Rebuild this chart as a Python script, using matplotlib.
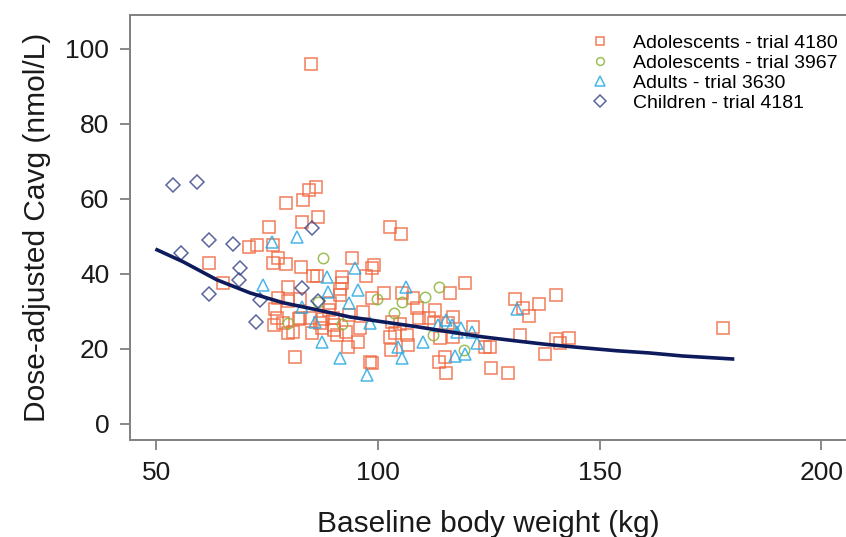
import numpy as np
import matplotlib
matplotlib.use("Agg")
import matplotlib.pyplot as plt

plt.rcParams['font.family'] = ['Liberation Sans', 'DejaVu Sans']

# Adolescents - trial 4180 (squares)
adol4180_wt = [84.9, 86.0, 84.5, 83.1, 79.3, 86.5, 82.9, 75.5, 70.9, 72.7, 76.4, 77.5,
               76.4, 79.3, 82.7, 85.4, 86.3, 91.9, 91.9, 94.1, 97.3, 99.1, 79.7, 61.9,
               65.1, 77.5, 79.7, 82.4, 76.8, 77.3, 82.4, 78.6, 80.9, 85.1, 89.2, 89.9,
               90.1, 90.1, 90.8, 86.9, 89.0, 91.4, 91.4, 96.6, 95.9, 95.5, 93.2, 98.2,
               81.3, 102.7, 105.2, 119.6, 116.2, 107.9, 108.8, 112.8, 109.2, 111.5, 116.9,
               115.8, 121.4, 130.9, 136.3, 140.3, 132.7, 134.0, 132.0, 140.3, 143.2, 141.2,
               137.6, 124.1, 125.2, 125.5, 129.3, 113.7, 115.1, 115.3, 106.8, 102.7, 103.8,
               102.9, 98.6, 98.6, 112.6, 114.0, 116.9, 106.5, 104.9, 103.2, 105.4, 177.9,
               87.6, 84.8, 87.4, 92.8, 93.5, 82.2, 76.6, 79.7, 98.6, 101.5]
adol4180_cavg = [96.0, 63.2, 62.4, 59.7, 58.9, 55.2, 53.9, 52.5, 47.2, 47.7, 47.7, 44.3,
                 42.9, 42.7, 41.9, 39.5, 39.5, 39.2, 37.6, 44.3, 39.5, 42.4, 36.5, 42.9,
                 37.6, 33.6, 32.8, 33.3, 30.7, 28.3, 28.3, 26.9, 24.5, 24.3, 32.3, 28.3,
                 26.4, 25.1, 23.7, 26.9, 30.4, 36.0, 34.4, 29.9, 25.6, 21.9, 20.5, 16.5,
                 17.9, 52.5, 50.7, 37.6, 34.9, 33.6, 30.9, 30.4, 28.3, 28.3, 28.5,
                 26.9, 25.9, 33.3, 32.0, 34.4, 30.9, 28.8, 23.7, 22.7, 22.9, 21.6,
                 18.7, 20.5, 20.5, 14.9, 13.6, 16.5, 17.9, 13.6, 21.1, 23.2, 24.3,
                 19.7, 16.3, 41.6, 26.9, 22.9, 23.2, 23.7, 26.7, 27.2, 34.9, 25.6,
                 28.0, 28.3, 25.6, 24.5, 29.1, 28.0, 26.4, 24.3, 33.6, 35.0]

# Adolescents - trial 3967 (circles)
adol3967_wt = [87.6, 79.7, 91.9, 86.5, 99.8, 113.7, 110.6, 105.4, 103.6, 112.4, 119.4]
adol3967_cavg = [44.3, 26.9, 26.7, 32.5, 33.3, 36.5, 33.9, 32.5, 29.6, 23.7, 19.7]

# Adults - trial 3630 (triangles)
adults_wt = [76.1, 81.8, 74.1, 88.5, 94.8, 88.7, 82.9, 85.8, 95.5, 93.5, 87.4, 91.4,
             97.5, 98.2, 106.3, 131.5, 110.1, 104.5, 105.4, 113.5, 115.3, 116.7, 117.8,
             118.7, 121.2, 122.3, 117.3, 119.6]
adults_cavg = [48.5, 49.9, 37.1, 39.2, 41.6, 35.2, 31.2, 27.2, 35.7, 32.3, 21.9, 17.6,
               13.1, 26.9, 36.5, 30.7, 21.9, 20.5, 17.6, 26.4, 27.7, 26.4, 24.5,
               25.6, 24.5, 21.6, 18.1, 18.7]

# Children - trial 4181 (diamonds)
children_wt = [53.8, 59.2, 55.6, 61.9, 67.3, 61.9, 68.9, 68.7, 73.4, 72.5, 85.1, 82.9, 86.5]
children_cavg = [63.7, 64.5, 45.6, 49.1, 48.0, 34.7, 41.6, 38.4, 33.1, 27.2, 52.3, 36.3, 32.8]

# model prediction curve
curve_wt = [50.2, 56.1, 63.7, 71.2, 78.6, 86.3, 93.7, 101.1, 108.8, 114.6, 123.6,
            131.3, 138.7, 146.2, 153.8, 161.3, 168.7, 180.0]
curve_cavg = [46.4, 43.2, 38.4, 34.9, 32.3, 30.4, 28.5, 27.2, 25.9, 24.8, 23.2,
              22.1, 21.1, 20.3, 19.5, 18.9, 18.1, 17.3]

groups = [
    (adol4180_wt, adol4180_cavg, 's', '#f0673f', 'Adolescents - trial 4180', 8.0),
    (adol3967_wt, adol3967_cavg, 'o', '#8fb43a', 'Adolescents - trial 3967', 7.5),
    (adults_wt, adults_cavg, '^', '#2aaae2', 'Adults - trial 3630', 9.0),
    (children_wt, children_cavg, 'D', '#3d4a8e', 'Children - trial 4181', 7.5),
]

fig = plt.figure(figsize=(8.46, 5.37), dpi=100)
ax = fig.add_axes([130 / 846, 97 / 537, 716 / 846, 425 / 537])

for wt, cavg, mk, col, lab, ms in groups:
    ax.plot(wt, cavg, linestyle='none', marker=mk, markersize=ms,
            markerfacecolor='none', markeredgecolor=col, markeredgewidth=1.1,
            alpha=0.85, label=lab)

ax.plot(curve_wt, curve_cavg, color='#0d1a5c', linewidth=2.6)

ax.set_xlim(44.1, 205.6)
ax.set_ylim(-4.3, 109.0)
ax.set_xticks([50, 100, 150, 200])
ax.set_yticks([0, 20, 40, 60, 80, 100])

for side in ['left', 'bottom', 'top']:
    ax.spines[side].set_color('#808080')
    ax.spines[side].set_linewidth(1.4)
ax.spines['right'].set_visible(False)
ax.tick_params(axis='both', direction='out', length=7, width=1.3, color='#808080',
               labelsize=19, pad=8, labelcolor='#1a1a1a')

ax.set_xlabel('Baseline body weight (kg)', fontsize=21.5, labelpad=18, color='#1a1a1a')
ax.set_ylabel('Dose-adjusted Cavg (nmol/L)', fontsize=21.5, labelpad=10, color='#1a1a1a')

leg = ax.legend(loc='upper right', bbox_to_anchor=(1.013, 0.995), frameon=False,
                fontsize=14, markerscale=0.75, handletextpad=1.1,
                labelspacing=0.12, handlelength=1.2)

fig.savefig('out.png', dpi=100)
